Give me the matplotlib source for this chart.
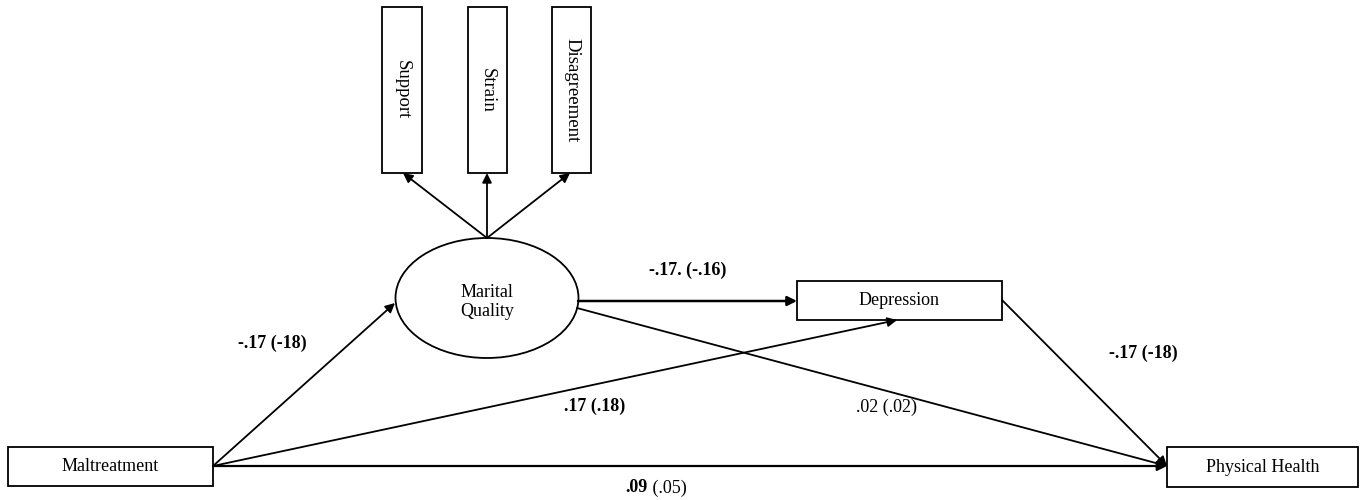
import matplotlib
matplotlib.use('Agg')
from matplotlib import pyplot as plt
from matplotlib.patches import Rectangle, Ellipse

# node labels
indicators = ['Support', 'Strain', 'Disagreement']
latent = 'Marital\nQuality'
observed = ['Maltreatment', 'Depression', 'Physical Health']

# path coefficients: (bold part, normal part)
coef_malt_mq = ('-.17 (-18)', '')
coef_mq_dep = ('-.17. (-.16)', '')
coef_dep_ph = ('-.17 (-18)', '')
coef_malt_dep = ('.17 (.18)', '')
coef_mq_ph = ('', '.02 (.02)')
coef_malt_ph = ('.09', ' (.05)')

# layout in pixel coordinates (x, y, w, h)
ind_boxes = [(382, 7, 40, 166), (468, 7, 39, 166), (552, 7, 39, 166)]
ind_tips = [(403, 173), (487, 173), (570, 173)]
obs_boxes = {'Maltreatment': (8, 447, 205, 39),
             'Depression': (797, 281, 205, 39),
             'Physical Health': (1167, 447, 191, 40)}
ell_c, ell_w, ell_h = (487, 298), 183, 120

FONT = ['Liberation Serif', 'DejaVu Serif']
LW = 1.3


def arrow(ax, p0, p1, lw=LW):
    ax.annotate('', xy=p1, xytext=p0,
                arrowprops=dict(arrowstyle='-|>', color='black', lw=lw,
                                mutation_scale=14, shrinkA=0, shrinkB=0))


def label(ax, x, y, parts, size=13):
    bold, normal = parts
    if bold and normal:
        ax.text(x, y, bold, ha='right', va='center', fontsize=size,
                fontweight='bold', family=FONT)
        ax.text(x, y, normal, ha='left', va='center', fontsize=size, family=FONT)
    elif bold:
        ax.text(x, y, bold, ha='center', va='center', fontsize=size,
                fontweight='bold', family=FONT)
    else:
        ax.text(x, y, normal, ha='center', va='center', fontsize=size, family=FONT)


def main():
    fig = plt.figure(figsize=(13.6, 5.0), dpi=100)
    ax = fig.add_axes([0, 0, 1, 1])
    ax.set_xlim(0, 1360)
    ax.set_ylim(500, 0)
    ax.axis('off')

    # indicator boxes
    for name, (x, y, w, h) in zip(indicators, ind_boxes):
        ax.add_patch(Rectangle((x, y), w, h, fill=False, lw=LW, ec='black'))
        ax.text(x + w / 2, y + h / 2, name, rotation=-90, ha='center', va='center',
                fontsize=13.5, family=FONT)

    # latent variable
    ax.add_patch(Ellipse(ell_c, ell_w, ell_h, fill=False, lw=LW, ec='black'))
    ax.text(ell_c[0], ell_c[1] + 4, latent, ha='center', va='center',
            fontsize=13, family=FONT, linespacing=1.15)

    # observed boxes
    for name in observed:
        x, y, w, h = obs_boxes[name]
        ax.add_patch(Rectangle((x, y), w, h, fill=False, lw=LW, ec='black'))
        ax.text(x + w / 2, y + h / 2, name, ha='center', va='center',
                fontsize=13, family=FONT)

    # loadings
    top = (ell_c[0], ell_c[1] - ell_h / 2)
    for tip in ind_tips:
        arrow(ax, top, tip)

    malt = (213, 466)
    ph = (1167, 466)
    dep_l = (797, 301)
    dep_r = (1002, 300)
    dep_b = (897, 320)
    mq_r = (578, 301)

    arrow(ax, malt, (395, 303))
    arrow(ax, mq_r, dep_l, lw=1.8)
    arrow(ax, dep_r, ph)
    arrow(ax, malt, dep_b)
    arrow(ax, (577, 308), ph)
    arrow(ax, malt, ph, lw=1.6)

    label(ax, 272, 343, coef_malt_mq)
    label(ax, 688, 270, coef_mq_dep)
    label(ax, 1143, 353, coef_dep_ph)
    label(ax, 595, 406, coef_malt_dep)
    label(ax, 886, 407, coef_mq_ph)
    label(ax, 648, 488, coef_malt_ph)

    fig.savefig('out.png', dpi=100, facecolor='white')


if __name__ == '__main__':
    main()
